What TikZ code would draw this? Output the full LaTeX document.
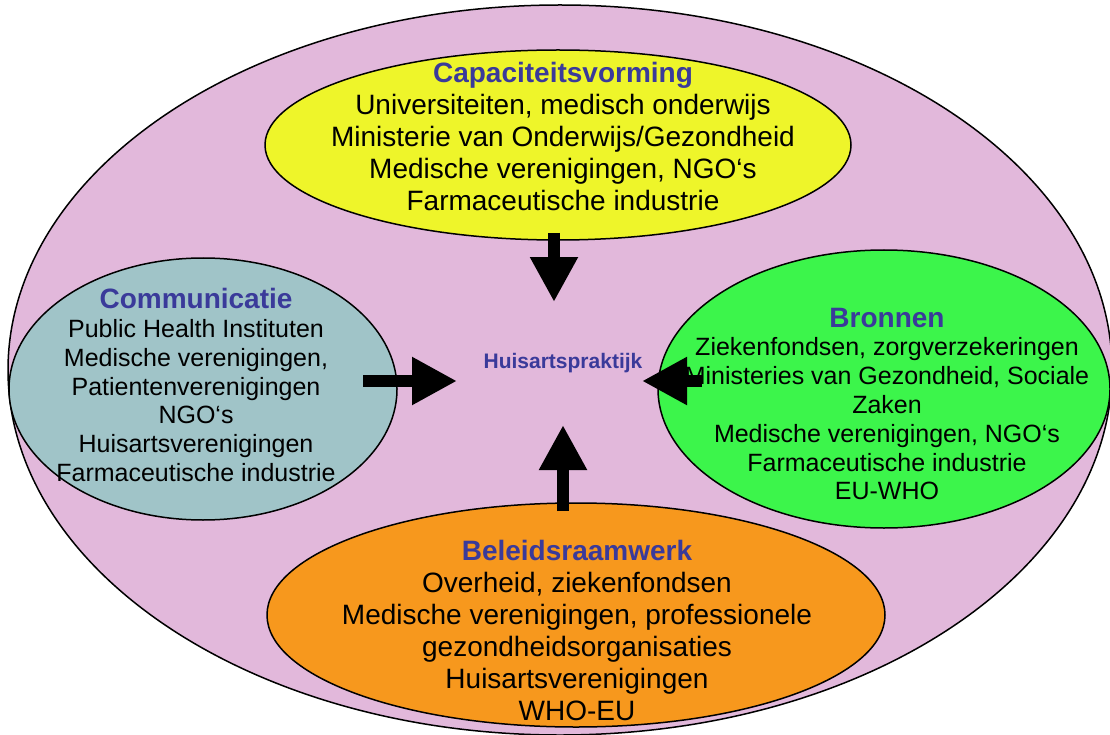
\documentclass[tikz,border=0pt]{standalone}
\usepackage{fontspec}
\setmainfont{Liberation Sans}
\usetikzlibrary{shapes.geometric,arrows.meta}
\definecolor{outerpink}{RGB}{226,184,219}
\definecolor{capyellow}{RGB}{238,245,42}
\definecolor{comteal}{RGB}{160,196,200}
\definecolor{brongreen}{RGB}{60,245,75}
\definecolor{beleidorange}{RGB}{247,152,29}
\definecolor{titleblue}{RGB}{58,58,154}
\tikzset{
  oval/.style={ellipse, draw=black, line width=1.5pt, inner sep=0pt},
  bodytext/.style={align=center, inner sep=0pt, text=black},
  bigtext/.style={bodytext, font=\fontsize{28}{32}\selectfont},
  smalltext/.style={bodytext, font=\fontsize{25}{28.8}\selectfont},
  blockarrow/.style={line width=12pt, -{Triangle[length=45pt,width=45pt]}},
}
\newcommand{\ttl}[1]{{\color{titleblue}\bfseries #1}}
\begin{document}
\begin{tikzpicture}[x=1pt,y=-1pt]
\useasboundingbox (0,0) rectangle (1110,735);
% outer ellipse
\node[oval, fill=outerpink, minimum width=1104pt, minimum height=730pt] (outer) at (560,370) {};
% inner ellipses
\node[oval, fill=capyellow, minimum width=586pt, minimum height=190pt] (cap) at (558,145) {};
\node[oval, fill=comteal, minimum width=388pt, minimum height=262pt] (com) at (203,389) {};
\node[oval, fill=brongreen, minimum width=452pt, minimum height=278pt] (bron) at (884,389) {};
\node[oval, fill=beleidorange, minimum width=618pt, minimum height=224pt] (bel) at (576,615) {};
% texts
\node[bigtext] (captext) at (563,136) {\ttl{Capaciteitsvorming}\\Universiteiten, medisch onderwijs\\Ministerie van Onderwijs/Gezondheid\\Medische verenigingen, NGO‘s\\Farmaceutische industrie};
\node[smalltext] (comtext) at (196,385) {{\fontsize{28}{32}\selectfont\ttl{Communicatie}}\\Public Health Instituten\\Medische verenigingen,\\Patientenverenigingen\\NGO‘s\\Huisartsverenigingen\\Farmaceutische industrie};
\node[smalltext] (brontext) at (887,404) {{\fontsize{28}{32}\selectfont\ttl{Bronnen}}\\Ziekenfondsen, zorgverzekeringen\\Ministeries van Gezondheid, Sociale\\Zaken\\Medische verenigingen, NGO‘s\\Farmaceutische industrie\\EU-WHO};
\node[bigtext] (beltext) at (577,630) {\ttl{Beleidsraamwerk}\\Overheid, ziekenfondsen\\Medische verenigingen, professionele\\gezondheidsorganisaties\\Huisartsverenigingen\\WHO-EU};
\node[inner sep=0pt, font=\fontsize{21}{24}\selectfont\bfseries, text=titleblue] (huis) at (563,363) {Huisartspraktijk};
% arrow end points
\coordinate (capout) at (554,233);
\coordinate (capin) at (554,302);
\coordinate (comout) at (363,381);
\coordinate (comin) at (457,381);
\coordinate (bronout) at (702,381);
\coordinate (bronin) at (642,381);
\coordinate (belout) at (563,511);
\coordinate (belin) at (563,425);
\draw[blockarrow] (capout) -- (capin);
\draw[blockarrow] (comout) -- (comin);
\draw[blockarrow] (bronout) -- (bronin);
\draw[blockarrow] (belout) -- (belin);
\end{tikzpicture}
\end{document}
